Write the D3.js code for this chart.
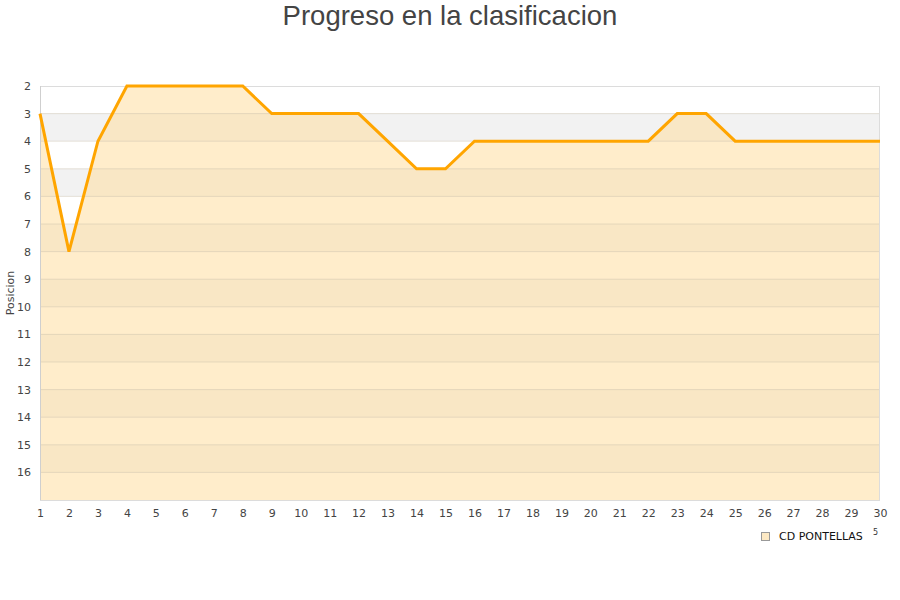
<!DOCTYPE html>
<html><head><meta charset="utf-8">
<script src="https://cdn.jsdelivr.net/npm/d3@7"></script>
<style>body{margin:0;background:#fff}svg{display:block}</style>
</head><body><svg id="c" width="900" height="600"></svg>
<script>
const rounds = d3.range(1, 31);
const positions = [3,8,4,2,2,2,2,2,3,3,3,3,4,5,5,4,4,4,4,4,4,4,3,3,4,4,4,4,4,4];
const yTicks = d3.range(2, 17);
const teamName = "CD PONTELLAS";

const svg = d3.select("#c");
const m = {l:40, r:880, t:86, b:500};
const x = d3.scaleLinear().domain([1,30]).range([m.l, m.r]);
const y = d3.scaleLinear().domain([2,17]).range([m.t, m.b]);

// background bands
const bands = d3.range(2, 17);
svg.append("g").selectAll("rect").data(bands).join("rect")
  .attr("x", m.l).attr("width", m.r - m.l)
  .attr("y", d => y(d)).attr("height", d => y(d+1) - y(d))
  .attr("fill", d => d % 2 === 1 ? "#f2f2f2" : "#ffffff");

// area
const data = rounds.map((r,i)=>({r, p: positions[i]}));
svg.append("path").datum(data)
  .attr("d", d3.area().x(d=>x(d.r)).y0(y(17)).y1(d=>y(d.p)))
  .attr("fill", "rgba(255,222,160,0.55)");

// grid lines
svg.append("g").selectAll("line").data(yTicks.slice(1)).join("line")
  .attr("x1", m.l).attr("x2", m.r).attr("y1", d=>y(d)).attr("y2", d=>y(d))
  .attr("stroke", "rgba(200,190,170,0.45)").attr("stroke-width", 1);

// frame
svg.append("line").attr("x1", m.l).attr("x2", m.r).attr("y1", m.t+0.5).attr("y2", m.t+0.5).attr("stroke", "#dcdcdc");
svg.append("line").attr("x1", m.r-0.5).attr("x2", m.r-0.5).attr("y1", m.t).attr("y2", m.b).attr("stroke", "#dcdcdc");
svg.append("line").attr("x1", m.l).attr("x2", m.r).attr("y1", m.b+0.5).attr("y2", m.b+0.5).attr("stroke", "#dcdcdc");
svg.append("line").attr("x1", m.l+0.5).attr("x2", m.l+0.5).attr("y1", m.t).attr("y2", m.b).attr("stroke", "#cfcfcf");

// line
svg.append("path").datum(data)
  .attr("d", d3.line().x(d=>x(d.r)).y(d=>y(d.p)))
  .attr("fill", "none").attr("stroke", "#ffa500").attr("stroke-width", 3)
  .attr("stroke-linejoin", "miter");

// axes
const font = "DejaVu Sans, Verdana, sans-serif";
const yAxis = svg.append("g").attr("transform", `translate(${m.l},0)`)
  .call(d3.axisLeft(y).tickValues(yTicks).tickSize(0).tickPadding(9));
yAxis.select(".domain").remove();
yAxis.selectAll("text").attr("font-family", font).attr("font-size", 11).attr("fill", "#444");

const xAxis = svg.append("g").attr("transform", `translate(0,${m.b})`)
  .call(d3.axisBottom(x).tickValues(rounds).tickFormat(d3.format("d")).tickSize(0).tickPadding(9));
xAxis.select(".domain").remove();
xAxis.selectAll("text").attr("font-family", font).attr("font-size", 11).attr("fill", "#444");

// title
svg.append("text").attr("x", 450).attr("y", 25).attr("text-anchor", "middle")
  .attr("font-family", "Liberation Sans, Arial, sans-serif").attr("font-size", 27.5).attr("fill", "#444")
  .text("Progreso en la clasificacion");

// y label
svg.append("text").attr("transform", "translate(14,293) rotate(-90)").attr("text-anchor", "middle")
  .attr("font-family", font).attr("font-size", 11).attr("fill", "#444").text("Posicion");

// legend
svg.append("rect").attr("x", 761.5).attr("y", 532.5).attr("width", 8).attr("height", 8)
  .attr("fill", "#fde9c4").attr("stroke", "#999");
svg.append("text").attr("x", 779).attr("y", 540).attr("font-family", font)
  .attr("font-size", 11).attr("fill", "#111").text(teamName);
svg.append("text").attr("x", 873).attr("y", 535).attr("font-family", font)
  .attr("font-size", 8).attr("fill", "#333").text("5");
</script></body></html>
